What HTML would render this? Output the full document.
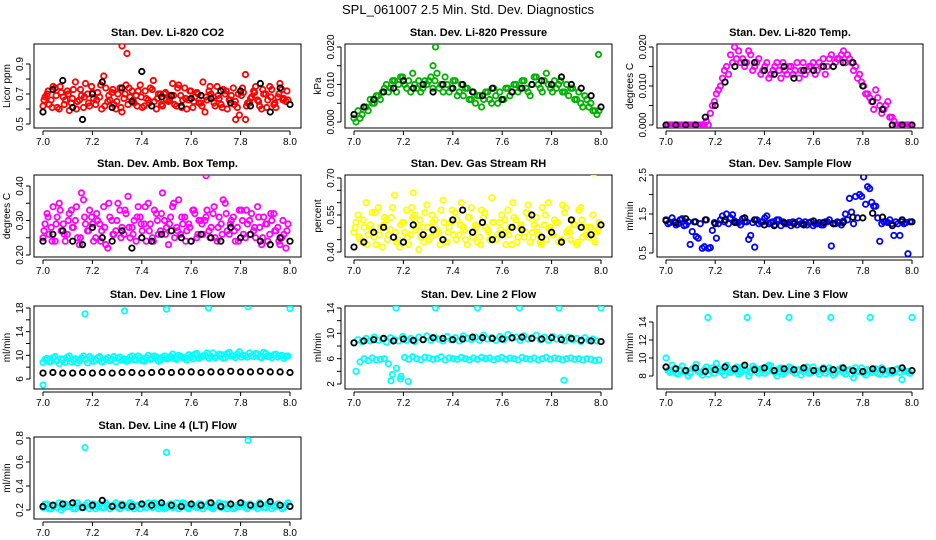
<!DOCTYPE html>
<html><head><meta charset="utf-8"><style>
body{margin:0;background:#fff;}
svg{display:block;font-family:"Liberation Sans",sans-serif;}
</style></head><body>
<svg id="chart" width="936" height="540">
<text x="468" y="14" text-anchor="middle" font-size="13">SPL_061007  2.5 Min. Std. Dev. Diagnostics</text>
</svg>
<script>
const xTickLabels=["7.0","7.2","7.4","7.6","7.8","8.0"];
const titles=["Stan. Dev. Li-820 CO2","Stan. Dev. Li-820 Pressure","Stan. Dev. Li-820 Temp.","Stan. Dev. Amb. Box Temp.","Stan. Dev. Gas Stream RH","Stan. Dev. Sample Flow","Stan. Dev. Line 1 Flow","Stan. Dev. Line 2 Flow","Stan. Dev. Line 3 Flow","Stan. Dev. Line 4 (LT) Flow"];
const yTitles=["Licor ppm","kPa","degrees C","degrees C","percent","ml/min","ml/min","ml/min","ml/min","ml/min"];
const colors=["#ff0000","#00b000","#ff00ff","#ff00ff","#ffff00","#0000ff","#00ffff","#00ffff","#00ffff","#00ffff"];
const yTicks=[[0.5,0.6,0.7,0.8,0.9],[0,0.005,0.01,0.015,0.02],[0,0.005,0.01,0.015,0.02],[0.2,0.25,0.3,0.35,0.4],[0.4,0.45,0.5,0.55,0.6,0.65,0.7],[0.5,1,1.5,2,2.5],[6,8,10,12,14,16,18],[2,4,6,8,10,12,14],[8,10,12,14],[0.2,0.4,0.6,0.8]];
const yLabels=[["0.5","","0.7","","0.9"],["0.000","","0.010","","0.020"],["0.000","","0.010","","0.020"],["0.20","","0.30","","0.40"],["0.40","","","0.55","","","0.70"],["0.5","","1.5","","2.5"],["6","","10","","14","","18"],["2","","6","","10","","14"],["8","10","12","14"],["0.2","0.4","0.6","0.8"]];

const p1a=[0.62,0.70,0.66,0.74,0.60,0.68,0.72,0.64,0.78,0.66,0.61,0.70,0.75,0.63,0.68,0.82,0.65,0.71,0.60,0.74,0.67,0.63,0.72,0.69,0.76,0.62,0.66,0.73,0.60,0.70,0.70,0.65,0.77,0.62,0.69,0.74,0.66,0.61,0.71,0.64,0.58,0.72,0.68,0.75,0.63,0.70,0.66,0.74,0.61,0.69,0.83,0.64,0.72,0.66,0.60,0.70,0.75,0.63,0.68,0.73,0.65];
const p1b=[0.68,0.63,0.75,0.61,0.71,0.66,0.59,0.73,0.65,0.69,0.77,0.62,0.67,0.71,0.60,0.74,0.66,0.63,0.70,0.58,0.76,0.68,0.64,0.72,0.61,0.67,0.74,0.65,0.70,0.62,0.66,0.69,0.63,0.76,0.66,0.60,0.72,0.68,0.64,0.78,0.66,0.70,0.62,0.67,0.73,0.60,0.69,0.65,0.56,0.71,0.64,0.68,0.75,0.62,0.70,0.66,0.73,0.61,0.77,0.67,0.66];
const p1c=[0.66,0.72,0.61,0.69,0.75,0.63,0.70,0.67,0.60,0.73,0.68,0.64,0.71,0.66,0.76,0.62,0.69,0.73,0.65,0.61,0.70,0.74,0.66,0.62,0.68,0.72,0.64,0.79,0.67,0.63,0.71,0.66,0.69,0.74,0.61,0.67,0.72,0.65,0.70,0.62,0.68,0.75,0.64,0.69,0.61,0.72,0.66,0.63,0.70,0.74,0.62,0.67,0.71,0.65,0.73,0.61,0.68,0.64,0.70,0.66,0.72];
const p1k=[0.58,0.73,0.79,0.61,0.53,0.70,0.78,0.61,0.74,0.65,0.85,0.62,0.68,0.69,0.62,0.67,0.69,0.67,0.72,0.64,0.72,0.62,0.77,0.58,0.74,0.63];
const p1ox=[7.32,7.34,7.66,7.99,7.78,7.82];
const p1oy=[1.02,0.97,0.45,0.45,0.53,0.53];
const p2a=[0.001,0.003,0.002,0.004,0.006,0.005,0.007,0.008,0.010,0.009,0.011,0.010,0.012,0.009,0.008,0.010,0.011,0.009,0.010,0.012,0.011,0.009,0.008,0.010,0.009,0.011,0.008,0.007,0.009,0.006,0.005,0.007,0.006,0.008,0.005,0.007,0.008,0.006,0.009,0.008,0.010,0.009,0.011,0.008,0.010,0.012,0.009,0.011,0.010,0.008,0.009,0.011,0.008,0.007,0.009,0.006,0.005,0.007,0.004,0.003,0.002];
const p2b=[0.000,0.001,0.004,0.003,0.005,0.007,0.006,0.009,0.008,0.011,0.008,0.012,0.010,0.011,0.013,0.009,0.008,0.011,0.011,0.009,0.013,0.010,0.012,0.008,0.011,0.007,0.010,0.009,0.006,0.008,0.007,0.004,0.008,0.006,0.009,0.005,0.006,0.009,0.007,0.010,0.008,0.011,0.009,0.007,0.012,0.010,0.008,0.013,0.009,0.011,0.010,0.008,0.010,0.009,0.006,0.008,0.004,0.006,0.005,0.003,0.003];
const p2k=[0.002,0.004,0.006,0.008,0.009,0.011,0.009,0.010,0.008,0.010,0.009,0.010,0.008,0.007,0.009,0.006,0.008,0.009,0.010,0.011,0.010,0.012,0.010,0.009,0.007,0.004];
const p2ox=[7.33,7.99,7.32];
const p2oy=[0.020,0.018,0.015];
const p3a=[0,0,0,0,0,0,0,0,0,0,0.001,0.003,0.006,0.009,0.012,0.015,0.018,0.020,0.019,0.017,0.016,0.018,0.015,0.017,0.014,0.016,0.013,0.015,0.014,0.016,0.013,0.015,0.014,0.012,0.016,0.014,0.015,0.013,0.016,0.017,0.015,0.018,0.016,0.017,0.019,0.018,0.016,0.015,0.013,0.010,0.008,0.006,0.009,0.005,0.004,0.006,0.002,0.000,0,0,0];
const p3b=[0,0,0,0,0,0,0,0,0,0,0.000,0.005,0.008,0.010,0.014,0.013,0.016,0.017,0.016,0.015,0.019,0.014,0.016,0.013,0.015,0.012,0.014,0.016,0.012,0.014,0.015,0.013,0.016,0.014,0.013,0.015,0.016,0.014,0.015,0.013,0.017,0.015,0.017,0.018,0.016,0.017,0.014,0.012,0.011,0.008,0.007,0.004,0.007,0.003,0.005,0.002,0.001,0,0,0,0];
const p3k=[0,0,0,0,0.002,0.005,0.011,0.015,0.016,0.016,0.014,0.013,0.015,0.012,0.014,0.014,0.015,0.015,0.016,0.016,0.010,0.006,0.004,0.000,0,0];
const p4a=[0.25,0.32,0.28,0.24,0.35,0.29,0.26,0.33,0.30,0.23,0.36,0.27,0.31,0.25,0.29,0.34,0.22,0.30,0.27,0.33,0.26,0.37,0.28,0.24,0.31,0.29,0.35,0.25,0.32,0.27,0.30,0.23,0.34,0.28,0.26,0.31,0.29,0.33,0.25,0.30,0.30,0.27,0.32,0.24,0.29,0.35,0.26,0.31,0.28,0.33,0.25,0.30,0.27,0.34,0.23,0.29,0.26,0.32,0.28,0.25,0.22];
const p4b=[0.29,0.26,0.34,0.31,0.27,0.24,0.32,0.28,0.25,0.38,0.29,0.33,0.24,0.30,0.27,0.23,0.31,0.26,0.35,0.28,0.32,0.25,0.30,0.34,0.27,0.24,0.29,0.33,0.26,0.38,0.28,0.31,0.25,0.36,0.29,0.27,0.24,0.32,0.30,0.26,0.33,0.28,0.25,0.31,0.36,0.27,0.30,0.24,0.33,0.26,0.29,0.32,0.25,0.28,0.31,0.24,0.30,0.27,0.23,0.26,0.29];
const p4c=[0.27,0.31,0.24,0.29,0.33,0.26,0.30,0.28,0.34,0.25,0.31,0.27,0.29,0.32,0.24,0.28,0.35,0.26,0.30,0.25,0.33,0.28,0.26,0.31,0.29,0.34,0.27,0.24,0.30,0.32,0.26,0.29,0.35,0.27,0.31,0.24,0.28,0.33,0.26,0.29,0.31,0.25,0.34,0.28,0.26,0.32,0.29,0.27,0.24,0.30,0.33,0.26,0.28,0.31,0.25,0.29,0.32,0.27,0.24,0.30,0.27];
const p4k=[0.24,0.26,0.27,0.24,0.23,0.28,0.25,0.24,0.27,0.22,0.25,0.24,0.26,0.27,0.25,0.24,0.26,0.25,0.24,0.28,0.25,0.26,0.24,0.23,0.25,0.24];
const p4ox=[7.66];
const p4oy=[0.43];
const p5a=[0.48,0.55,0.44,0.60,0.51,0.46,0.58,0.42,0.53,0.49,0.63,0.45,0.52,0.57,0.47,0.55,0.41,0.50,0.59,0.46,0.53,0.48,0.61,0.44,0.52,0.56,0.47,0.50,0.43,0.58,0.51,0.46,0.54,0.49,0.62,0.45,0.52,0.48,0.57,0.43,0.53,0.50,0.46,0.59,0.48,0.54,0.44,0.51,0.60,0.47,0.52,0.45,0.56,0.49,0.53,0.43,0.58,0.50,0.46,0.55,0.48];
const p5b=[0.52,0.45,0.50,0.47,0.56,0.43,0.50,0.54,0.47,0.58,0.44,0.51,0.48,0.43,0.54,0.50,0.46,0.56,0.45,0.52,0.49,0.57,0.44,0.50,0.47,0.53,0.60,0.45,0.54,0.48,0.44,0.57,0.50,0.45,0.52,0.47,0.55,0.43,0.50,0.54,0.46,0.49,0.56,0.44,0.51,0.47,0.58,0.45,0.50,0.53,0.44,0.59,0.48,0.45,0.51,0.57,0.46,0.50,0.50,0.44,0.52];
const p5c=[0.50,0.46,0.53,0.43,0.49,0.56,0.47,0.51,0.45,0.54,0.48,0.42,0.52,0.46,0.58,0.49,0.53,0.44,0.50,0.55,0.47,0.43,0.52,0.48,0.57,0.45,0.51,0.49,0.54,0.46,0.50,0.43,0.56,0.48,0.52,0.45,0.49,0.53,0.47,0.60,0.44,0.51,0.48,0.54,0.46,0.50,0.43,0.55,0.49,0.47,0.52,0.45,0.58,0.48,0.51,0.44,0.53,0.47,0.50,0.45,0.49];
const p5k=[0.42,0.44,0.48,0.50,0.46,0.44,0.51,0.47,0.49,0.45,0.53,0.57,0.48,0.52,0.45,0.47,0.50,0.49,0.55,0.46,0.48,0.44,0.53,0.50,0.47,0.51];
const p5ox=[7.97,7.24];
const p5oy=[0.72,0.64];
const p6a=[1.35,1.28,1.30,1.25,1.38,1.22,0.72,1.30,0.88,0.62,1.35,0.64,1.28,1.25,1.45,1.50,1.40,1.32,1.28,1.38,1.30,0.95,0.65,1.25,1.30,1.45,1.28,1.22,1.35,1.30,1.25,1.20,1.28,1.32,1.25,1.22,1.30,1.25,1.28,1.22,1.30,0.68,1.25,1.28,1.32,1.35,1.55,1.95,2.0,2.45,2.2,1.8,1.7,0.8,1.3,1.28,1.25,1.3,0.95,1.25,0.48];
const p6b=[1.25,1.40,1.22,1.35,1.20,1.30,1.05,0.92,1.25,0.66,0.62,1.08,0.88,1.35,1.30,1.25,1.48,1.28,1.22,1.30,0.85,1.28,1.35,1.30,1.40,1.25,1.30,1.35,1.20,1.25,1.28,1.30,1.22,1.25,1.30,1.28,1.20,1.25,1.22,1.30,1.35,1.25,1.30,1.22,1.50,1.90,1.25,1.40,1.95,1.75,2.15,1.70,1.40,1.25,1.30,1.35,0.95,1.25,1.30,1.28,1.30];
const p6k=[1.33,1.28,1.38,1.30,1.35,1.25,1.35,1.28,1.40,1.35,1.22,1.20,1.28,1.25,1.22,1.32,1.28,1.25,1.28,1.42,1.40,1.52,1.42,1.20,1.35,1.30];
const p7a=[8.8,9.5,9.0,9.8,8.6,9.3,9.7,8.9,9.4,9.1,9.9,8.7,9.5,9.2,9.8,9.0,9.6,9.3,8.9,9.7,9.4,9.1,9.9,9.2,9.6,9.0,10.0,9.4,9.7,9.2,9.9,9.5,10.2,9.3,9.8,9.6,10.1,9.4,10.3,9.7,10.0,9.5,10.4,9.8,10.1,9.6,10.5,9.9,10.2,9.7,10.0,10.4,9.8,10.2,9.6,10.3,9.9,10.1,9.7,10.0,9.8];
const p7b=[9.3,8.9,9.6,9.1,9.4,8.8,9.9,9.2,8.7,9.6,9.3,9.8,9.0,9.6,8.9,9.4,9.1,9.8,9.5,9.2,9.0,9.7,9.3,9.9,9.1,9.6,9.3,9.9,9.0,9.7,9.4,9.8,9.5,10.0,9.6,9.2,9.7,10.2,9.5,9.9,10.4,9.8,9.6,10.2,9.5,10.3,9.9,9.6,10.6,10.0,9.7,9.9,10.3,9.7,10.5,9.8,9.6,10.2,9.9,9.5,9.9];
const p7k=[7.0,7.1,7.0,7.0,7.1,7.0,7.1,7.0,7.1,7.1,7.0,7.1,7.2,7.1,7.2,7.2,7.1,7.2,7.2,7.3,7.2,7.2,7.3,7.2,7.2,7.1];
const p7ox=[7.0,7.17,7.33,7.5,7.67,7.83,8.0];
const p7oy=[5.0,17.0,17.5,17.8,18.0,18.2,17.9];
const p8a=[8.5,9.0,8.7,9.2,8.8,9.4,8.9,9.1,8.6,9.3,9.0,8.8,9.5,8.9,9.2,8.7,9.4,9.0,9.6,8.9,9.3,9.1,8.8,9.5,9.0,9.3,8.8,9.6,9.2,9.0,9.4,8.9,9.7,9.1,9.3,8.9,9.5,9.0,9.8,9.2,9.4,8.9,9.6,9.1,9.3,9.7,9.0,9.4,8.9,9.5,9.1,9.3,8.8,9.4,9.0,9.2,8.7,9.3,8.9,9.1,8.8];
const p8b=[4.0,5.5,6.0,5.7,6.1,5.8,5.9,6.0,5.2,3.5,4.5,2.8,6.2,5.9,6.3,6.0,5.8,6.2,6.1,5.9,6.0,6.3,5.8,6.1,6.0,5.9,6.2,6.0,5.8,6.1,5.9,6.2,6.0,6.1,5.8,6.0,6.2,5.9,6.1,6.0,5.8,6.2,6.0,5.9,6.1,5.8,6.0,6.2,5.9,6.1,6.0,5.8,6.0,6.1,5.9,6.0,5.8,6.0,5.9,5.7,5.8];
const p8k=[8.5,8.8,9.0,9.2,8.8,9.1,8.9,9.0,9.3,9.2,9.0,9.1,9.4,9.3,9.2,9.1,9.3,9.4,9.2,9.1,9.3,9.0,9.2,8.9,8.8,8.7];
const p8ox=[7.17,7.33,7.5,7.67,7.83,8.0,7.15,7.19,7.22,7.85];
const p8oy=[14,14,14,14,14,14,2.5,3.2,2.4,2.6];
const p9a=[9.0,8.4,8.8,8.2,9.1,8.6,8.3,8.9,8.5,8.1,9.0,8.6,8.3,8.8,8.5,9.2,8.4,8.7,8.2,9.0,8.6,8.4,8.9,8.3,8.7,8.5,9.1,8.4,8.8,8.2,8.6,8.9,8.3,8.7,8.5,9.0,8.4,8.6,8.2,8.9,8.5,8.7,8.3,8.8,8.4,8.6,8.2,8.9,8.5,8.3,8.7,8.4,8.8,8.2,8.6,8.5,8.3,8.7,8.4,8.6,8.5];
const p9b=[8.6,9.2,8.3,8.7,8.5,8.0,8.8,9.3,8.4,8.7,8.2,8.9,9.4,8.5,8.1,8.8,8.6,9.0,8.4,8.7,8.0,9.1,8.5,8.8,8.3,9.2,8.6,8.0,8.9,8.4,9.0,8.5,8.7,8.1,8.8,8.3,9.0,8.5,8.7,8.3,8.9,8.1,8.6,8.9,8.2,8.7,7.8,8.5,8.9,8.1,8.6,8.8,8.3,8.9,8.2,8.6,8.4,8.8,7.6,8.5,8.3];
const p9k=[9.0,8.8,8.6,8.9,8.5,8.7,9.0,8.8,9.2,8.7,8.9,8.6,8.8,8.7,8.9,8.6,8.8,8.7,8.9,8.6,8.5,8.8,8.7,8.6,8.9,8.6];
const p9ox=[7.0,7.17,7.33,7.5,7.67,7.83,8.0];
const p9oy=[10.0,14.5,14.5,14.5,14.5,14.5,14.5];
const p10a=[0.22,0.25,0.21,0.24,0.26,0.22,0.23,0.25,0.21,0.24,0.22,0.26,0.23,0.21,0.25,0.22,0.24,0.23,0.26,0.21,0.24,0.22,0.25,0.23,0.21,0.24,0.26,0.22,0.25,0.23,0.21,0.24,0.22,0.26,0.23,0.25,0.21,0.24,0.22,0.25,0.23,0.26,0.21,0.24,0.22,0.25,0.23,0.21,0.24,0.26,0.22,0.25,0.23,0.21,0.24,0.22,0.26,0.23,0.25,0.21,0.24];
const p10b=[0.25,0.21,0.24,0.22,0.20,0.25,0.23,0.21,0.26,0.22,0.24,0.21,0.25,0.23,0.22,0.26,0.21,0.24,0.22,0.25,0.23,0.26,0.21,0.24,0.25,0.22,0.23,0.26,0.21,0.24,0.22,0.25,0.23,0.21,0.26,0.22,0.24,0.23,0.25,0.21,0.24,0.22,0.23,0.26,0.25,0.21,0.24,0.22,0.23,0.25,0.21,0.24,0.23,0.26,0.22,0.25,0.21,0.23,0.24,0.22,0.26];
const p10k=[0.23,0.24,0.25,0.26,0.22,0.24,0.28,0.23,0.24,0.23,0.25,0.24,0.26,0.24,0.23,0.25,0.24,0.26,0.23,0.25,0.26,0.24,0.25,0.27,0.24,0.23];
const p10ox=[7.17,7.5,7.83];
const p10oy=[0.72,0.68,0.78];

const colored=[[p1a,p1b,p1c],[p2a,p2b],[p3a,p3b],[p4a,p4b,p4c],[p5a,p5b,p5c],[p6a,p6b],[p7a,p7b],[p8a,p8b],[p9a,p9b],[p10a,p10b]];
const blacks=[p1k,p2k,p3k,p4k,p5k,p6k,p7k,p8k,p9k,p10k];
const outX=[p1ox,p2ox,[],p4ox,p5ox,[],p7ox,p8ox,p9ox,p10ox];
const outY=[p1oy,p2oy,[],p4oy,p5oy,[],p7oy,p8oy,p9oy,p10oy];

// layout (not data)
const colBox=[[34,301],[345,612],[657,923]];
const rowBox=[[44,128],[175,257],[306,389],[437,519]];
const yCal=[[0.5,124,0.9,64],[0,122,0.02,47],[0,125,0.02,47],[0.2,255,0.4,186],[0.4,252,0.7,178],[0.5,253,2.5,175],[6,379,18,308],[2,384,14,308],[8,376,14,322],[0.2,510,0.8,438]];
const phase=[0,0.5,0.25];

const NS="http://www.w3.org/2000/svg";
const svg=document.getElementById('chart');
function mk(tag,attrs,parent){const e=document.createElementNS(NS,tag);for(const k in attrs)e.setAttribute(k,attrs[k]);(parent||svg).appendChild(e);return e;}

for(let p=0;p<10;p++){
  const c=p%3,r=Math.floor(p/3);
  const L=colBox[c][0],R=colBox[c][1],T=rowBox[r][0],B=rowBox[r][1];
  const x0=L+9,x1=R-11;
  const xs=v=>x0+(v-7)*(x1-x0);
  const cal=yCal[p];
  const ys=v=>cal[1]+(v-cal[0])*(cal[3]-cal[1])/(cal[2]-cal[0]);
  const g=mk('g',{});
  
  
  const cp=mk('clipPath',{id:'cp'+p},g);
  mk('rect',{x:L,y:T,width:R-L,height:B-T},cp);
  const t=mk('text',{x:(L+R)/2,y:T-8,'text-anchor':'middle','font-size':'11','font-weight':'bold'},g);
  t.textContent=titles[p];
  
  
  const yt=mk('text',{x:0,y:0,'text-anchor':'middle','font-size':'10',transform:`translate(${L-24},${(T+B)/2}) rotate(-90)`},g);
  yt.textContent=yTitles[p];
  
  
  const box=mk('rect',{x:L,y:T,width:R-L,height:B-T,fill:'none',stroke:'#000','stroke-width':1},g);
  
  
  mk('line',{x1:xs(7),x2:xs(8),y1:B+3,y2:B+3,stroke:'#000'},g);
  xTickLabels.forEach(lbl=>{
    const v=parseFloat(lbl),X=xs(v);
    mk('line',{x1:X,x2:X,y1:B+3,y2:B+7,stroke:'#000'},g);
    const tx=mk('text',{x:X,y:B+17,'text-anchor':'middle','font-size':'10'},g);
    tx.textContent=lbl;
    
    
  });
  const tk=yTicks[p];
  mk('line',{x1:L-4,x2:L-4,y1:ys(tk[0]),y2:ys(tk[tk.length-1]),stroke:'#000'},g);
  tk.forEach((v,i)=>{
    const Y=ys(v);
    mk('line',{x1:L-8,x2:L-4,y1:Y,y2:Y,stroke:'#000'},g);
    if(yLabels[p][i]){
      const ty=mk('text',{x:0,y:0,'text-anchor':'middle','font-size':'10',transform:`translate(${L-11},${Y}) rotate(-90)`},g);
      ty.textContent=yLabels[p][i];
      
      
    }
  });
  const pts=mk('g',{'clip-path':`url(#cp${p})`,fill:'none','stroke-width':1.8},g);
  colored[p].forEach((arr,si)=>{
    const n=arr.length;
    arr.forEach((v,i)=>{
      const ci=mk('circle',{cx:xs(7+(i+phase[si])/n),cy:ys(v),r:2.7,stroke:colors[p]},pts);
      
      
    });
  });
  outX[p].forEach((xv,i)=>{
    const ci=mk('circle',{cx:xs(xv),cy:ys(outY[p][i]),r:2.7,stroke:colors[p]},pts);
    
    
  });
  const bk=blacks[p],nb=bk.length;
  bk.forEach((v,i)=>{
    const ci=mk('circle',{cx:xs(7+i/(nb-1)),cy:ys(v),r:2.7,stroke:'#000'},pts);
    
    
  });
}
</script>
</body></html>
